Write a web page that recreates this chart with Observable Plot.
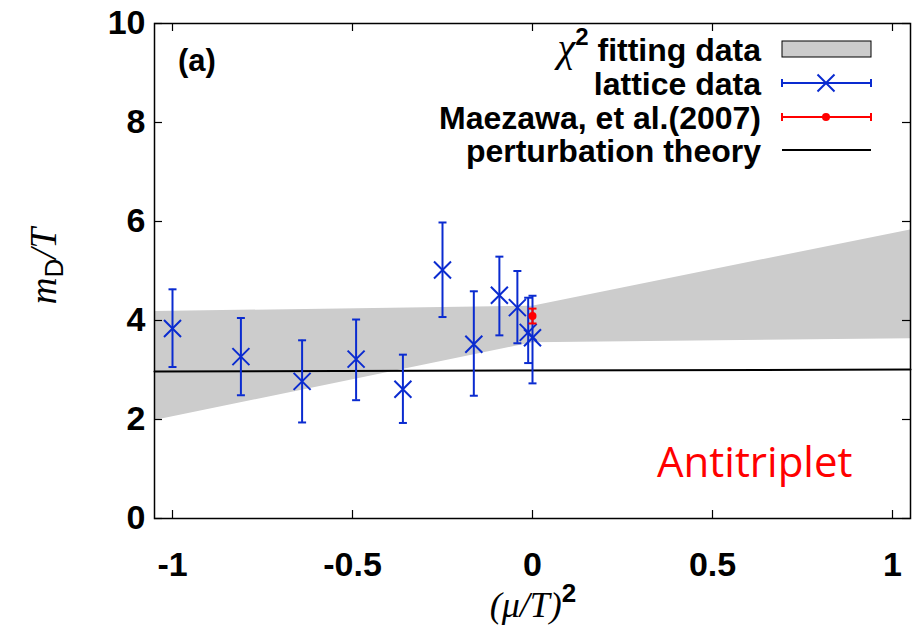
<!DOCTYPE html>
<html><head><meta charset="utf-8">
<script src="https://cdn.jsdelivr.net/npm/d3@7"></script>
<script src="https://cdn.jsdelivr.net/npm/@observablehq/plot@0.6"></script>
<style>body{margin:0;background:#fff}</style>
</head><body><div id="chart"></div>
<script>
// ---- data ----
const latticeX  = [-1.0, -0.81, -0.64, -0.49, -0.36, -0.25, -0.163, -0.092, -0.042, -0.012, 0.0];
const latticeY  = [3.84, 3.27, 2.77, 3.22, 2.61, 5.02, 3.52, 4.51, 4.26, 3.76, 3.65];
const latticeLo = [3.06, 2.49, 1.94, 2.39, 1.93, 4.07, 2.48, 3.70, 3.54, 3.14, 2.73];
const latticeHi = [4.63, 4.05, 3.60, 4.02, 3.31, 5.98, 4.59, 5.29, 5.00, 4.46, 4.50];
const maezawaX  = [0.0];
const maezawaY  = [4.09];
const maezawaLo = [3.94];
const maezawaHi = [4.24];
const bandX  = [-1.05, 0, 1.05];
const bandLo = [1.98, 3.55, 3.63];
const bandHi = [4.18, 4.29, 5.83];
const pertX = [-1.05, 1.05];
const pertY = [2.97, 3.01];
const xTicks = [-1, -0.5, 0, 0.5, 1];
const yTicks = [0, 2, 4, 6, 8, 10];
const legendLabels = ["fitting data", "lattice data", "Maezawa, et al.(2007)", "perturbation theory"];

const lattice = latticeX.map((x, i) => ({x, y: latticeY[i], lo: latticeLo[i], hi: latticeHi[i]}));
const maezawa = maezawaX.map((x, i) => ({x, y: maezawaY[i], lo: maezawaLo[i], hi: maezawaHi[i]}));
const band = bandX.map((x, i) => ({x, lo: bandLo[i], hi: bandHi[i]}));
const pert = pertX.map((x, i) => ({x, y: pertY[i]}));

const BLUE = "#0a2bd0", RED = "#ff0000", GRAY = "#cccccc";
const W = 912, H = 626, ML = 154, MR = 2, MT = 23, MB = 108;
const FW = W - ML - MR, FH = H - MT - MB;

const capSym = {draw(ctx, size) {const r = Math.sqrt(size / Math.PI); ctx.moveTo(-r, 0); ctx.lineTo(r, 0);}};
const crossSym = {draw(ctx, size) {const r = Math.sqrt(size / Math.PI); ctx.moveTo(-r, -r); ctx.lineTo(r, r); ctx.moveTo(-r, r); ctx.lineTo(r, -r);}};

const tickFont = {fontSize: 34, fontWeight: "bold", fontFamily: "Liberation Sans, Arial, sans-serif", fill: "black"};

const svg = Plot.plot({
  width: W, height: H,
  marginLeft: ML, marginRight: MR, marginTop: MT, marginBottom: MB,
  style: {fontFamily: "Liberation Sans, Arial, sans-serif", background: "white", overflow: "visible"},
  x: {domain: [-1.05, 1.05], label: null},
  y: {domain: [0, 10], label: null},
  marks: [
    Plot.areaY(band, {x: "x", y1: "lo", y2: "hi", fill: GRAY}),
    Plot.line(pert, {x: "x", y: "y", stroke: "black", strokeWidth: 2}),
    Plot.ruleX(lattice, {x: "x", y1: "lo", y2: "hi", stroke: BLUE, strokeWidth: 2}),
    Plot.dot(lattice, {x: "x", y: "lo", symbol: capSym, r: 4, stroke: BLUE, strokeWidth: 2, fill: "none"}),
    Plot.dot(lattice, {x: "x", y: "hi", symbol: capSym, r: 4, stroke: BLUE, strokeWidth: 2, fill: "none"}),
    Plot.dot(lattice, {x: "x", y: "y", symbol: crossSym, r: 8.5, stroke: BLUE, strokeWidth: 2, fill: "none"}),
    Plot.ruleX(maezawa, {x: "x", y1: "lo", y2: "hi", stroke: RED, strokeWidth: 2}),
    Plot.dot(maezawa, {x: "x", y: "lo", symbol: capSym, r: 4, stroke: RED, strokeWidth: 2, fill: "none"}),
    Plot.dot(maezawa, {x: "x", y: "hi", symbol: capSym, r: 4, stroke: RED, strokeWidth: 2, fill: "none"}),
    Plot.dot(maezawa, {x: "x", y: "y", r: 4, fill: RED, stroke: "none"}),
    Plot.frame({stroke: "black", strokeWidth: 1.5}),
    Plot.tickX(xTicks, {x: d => d, insetTop: FH - 8, stroke: "black", strokeWidth: 1.2}),
    Plot.tickX(xTicks, {x: d => d, insetBottom: FH - 8, stroke: "black", strokeWidth: 1.2}),
    Plot.tickY(yTicks, {y: d => d, insetRight: FW - 8, stroke: "black", strokeWidth: 1.2}),
    Plot.tickY(yTicks, {y: d => d, insetLeft: FW - 8, stroke: "black", strokeWidth: 1.2}),
    Plot.axisX(xTicks, {tickSize: 0, tickPadding: 33, tickFormat: d => String(d), label: null, ...tickFont}),
    Plot.axisY(yTicks, {tickSize: 0, tickPadding: 9, tickFormat: d => String(d), label: null, ...tickFont})
  ]
});
document.getElementById("chart").appendChild(svg);

// ---- annotations and legend ----
const s = d3.select(svg);
const SANS = "Liberation Sans, Arial, sans-serif";
const SERIF = "Liberation Serif, Times New Roman, serif";

// y axis label m_D/T
const yl = s.append("text").attr("transform", "translate(56,266) rotate(-90)")
  .attr("text-anchor", "middle").attr("font-size", 37).attr("fill", "black");
yl.append("tspan").attr("font-family", SERIF).attr("font-style", "italic").text("m");
yl.append("tspan").attr("font-family", SANS).attr("font-size", 26).attr("dy", 7).text("D");
yl.append("tspan").attr("font-family", SERIF).attr("font-style", "italic").attr("dy", -7).text("/T");

// x axis label (mu/T)^2
const xl = s.append("text").attr("x", 533).attr("y", 617)
  .attr("text-anchor", "middle").attr("font-size", 36).attr("fill", "black");
xl.append("tspan").attr("font-family", SERIF).attr("font-style", "italic").text("(μ/T)");
xl.append("tspan").attr("font-family", SANS).attr("font-weight", "bold").attr("font-size", 26).attr("dy", -15).text("2");

// panel label
s.append("text").attr("x", 178).attr("y", 71).attr("text-anchor", "start").attr("font-family", SANS).attr("font-weight", "bold")
  .attr("font-size", 31).attr("fill", "black").text("(a)");

// Antitriplet
s.append("text").attr("x", 657).attr("y", 477).attr("text-anchor", "start").attr("font-family", "Open Sans, Noto Sans, sans-serif")
  .attr("font-size", 42).attr("fill", RED).text("Antitriplet");

// legend
const rows = [49, 83, 117, 150];
const lx1 = 782, lx2 = 871, lxc = 826, tx = 761;
const lg = s.append("g");
const t0 = lg.append("text").attr("x", tx).attr("y", rows[0] + 11.5).attr("text-anchor", "end")
  .attr("font-size", 32).attr("fill", "black");
t0.append("tspan").attr("font-family", SERIF).attr("font-style", "italic").attr("font-size", 40).text("χ");
t0.append("tspan").attr("font-family", SANS).attr("font-weight", "bold").attr("font-size", 24).attr("dy", -16).text("2");
t0.append("tspan").attr("font-family", SANS).attr("font-weight", "bold").attr("dy", 16).text(" " + legendLabels[0]);
for (let i = 1; i < 4; i++) {
  lg.append("text").attr("x", tx).attr("y", rows[i] + 11.5).attr("text-anchor", "end")
    .attr("font-family", SANS).attr("font-weight", "bold").attr("font-size", 32).attr("fill", "black")
    .text(legendLabels[i]);
}
lg.append("rect").attr("x", lx1).attr("y", rows[0] - 8).attr("width", lx2 - lx1).attr("height", 16)
  .attr("fill", GRAY).attr("stroke", "black").attr("stroke-width", 1);
function errSample(y, color) {
  lg.append("line").attr("x1", lx1).attr("x2", lx2).attr("y1", y).attr("y2", y).attr("stroke", color).attr("stroke-width", 2);
  for (const x of [lx1, lx2]) lg.append("line").attr("x1", x).attr("x2", x).attr("y1", y - 4).attr("y2", y + 4).attr("stroke", color).attr("stroke-width", 2);
}
errSample(rows[1], BLUE);
lg.append("path").attr("d", `M${lxc-8.5},${rows[1]-8.5}L${lxc+8.5},${rows[1]+8.5}M${lxc-8.5},${rows[1]+8.5}L${lxc+8.5},${rows[1]-8.5}`)
  .attr("stroke", BLUE).attr("stroke-width", 2).attr("fill", "none");
errSample(rows[2], RED);
lg.append("circle").attr("cx", lxc).attr("cy", rows[2]).attr("r", 4).attr("fill", RED);
lg.append("line").attr("x1", lx1).attr("x2", lx2).attr("y1", rows[3]).attr("y2", rows[3]).attr("stroke", "black").attr("stroke-width", 2);
</script>
</body></html>
